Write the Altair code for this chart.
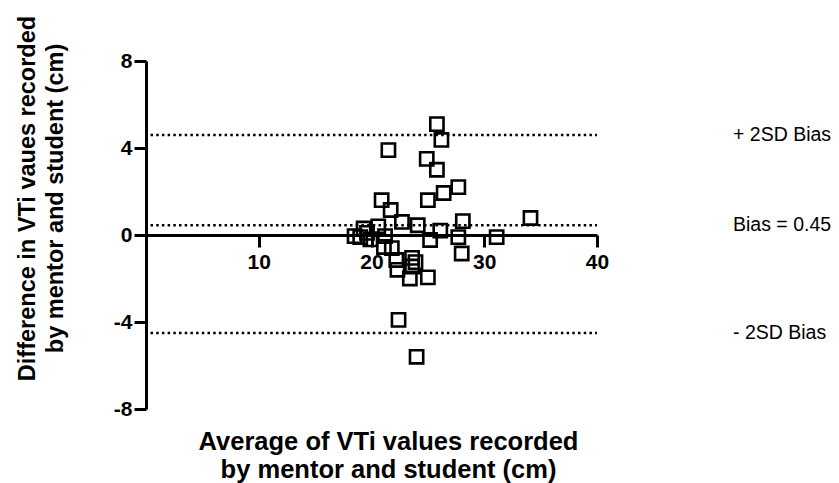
import altair as alt
import pandas as pd

# ---- data ----
avg_vti = [25.8, 26.2, 21.5, 24.9, 25.8, 27.7, 26.4, 25.0, 20.9, 21.7,
           28.1, 34.1, 20.6, 22.7, 24.1, 26.1, 19.6, 19.0, 19.9, 21.2,
           25.2, 27.7, 31.1, 28.0, 21.1, 21.8, 22.2, 22.3, 23.6, 23.6,
           23.9, 23.4, 25.0, 22.4, 24.0, 19.3, 18.5]
diff_vti = [5.1, 4.37, 3.9, 3.5, 3.0, 2.2, 1.93, 1.6, 1.6, 1.15,
            0.64, 0.78, 0.4, 0.6, 0.45, 0.2, 0.1, -0.1, -0.2, -0.05,
            -0.23, -0.1, -0.1, -0.85, -0.55, -0.6, -1.15, -1.6, -1.05, -1.45,
            -1.25, -2.0, -1.95, -3.9, -5.6, 0.3, -0.05]

ref_levels = [4.6, 0.45, -4.5]
ref_labels = ["+ 2SD Bias", "Bias = 0.45", "- 2SD Bias"]
ref_start = [0.4, 0.4, 0.4]
ref_end = [40, 40, 40]

x_ticks = [10, 20, 30, 40]
y_ticks = [-8, -4, 0, 4, 8]
x_domain = [0, 40]
y_domain = [-8, 8]

x_title = ["Average of VTi values recorded", "by mentor and student (cm)"]
y_title = ["Difference in VTi vaues recorded", "by mentor and student (cm)"]

W, H = 451, 348
FONT = "Liberation Sans"

pts = pd.DataFrame({"avg": avg_vti, "diff": diff_vti})
refs = pd.DataFrame({"y": ref_levels, "label": ref_labels,
                     "x1": ref_start, "x2": ref_end})

xs = alt.Scale(domain=x_domain, nice=False, zero=False)
ys = alt.Scale(domain=y_domain, nice=False)

x_axis = alt.Axis(values=x_ticks, offset=-H / 2, title=None, grid=False,
                  domainColor="black", domainWidth=3, tickColor="black",
                  tickWidth=3, tickSize=12, labelFont=FONT, labelFontSize=21,
                  labelFontWeight="bold", labelColor="black", labelPadding=4,
                  labelFlush=False, labelExpr="'' + datum.value")
y_axis = alt.Axis(values=y_ticks, title=y_title, grid=False,
                  domainColor="black", domainWidth=3, tickColor="black",
                  tickWidth=3, tickSize=12, labelFont=FONT, labelFontSize=21,
                  labelFontWeight="bold", labelColor="black", labelPadding=2,
                  labelFlush=False, labelExpr="'' + datum.value",
                  titleFont=FONT, titleFontSize=23.5, titleFontWeight="bold",
                  titleColor="black", titleAngle=270, titleAlign="center",
                  titleBaseline="top", titleX=-131, titleY=137,
                  titleLineHeight=28)

points = alt.Chart(pts).mark_point(
    shape="square", filled=False, size=175, strokeWidth=2.6,
    color="black", opacity=1
).encode(
    x=alt.X("avg:Q", scale=xs, axis=x_axis),
    y=alt.Y("diff:Q", scale=ys, axis=y_axis),
)

rules = alt.Chart(refs).mark_rule(
    color="black", strokeWidth=2.5, strokeDash=[2.5, 3.2]
).encode(
    x=alt.X("x1:Q", scale=xs, axis=x_axis),
    x2="x2:Q",
    y=alt.Y("y:Q", scale=ys, axis=y_axis),
)

labels = alt.Chart(refs).mark_text(
    align="left", baseline="middle", font=FONT, fontSize=19.5, color="black"
).encode(
    x=alt.value(W + 136),
    y=alt.Y("y:Q", scale=ys, axis=y_axis),
    text="label:N",
)

chart = alt.layer(rules, points, labels).properties(
    width=W, height=H,
    autosize=alt.AutoSizeParams(type="none"),
    padding={"left": 138, "top": 53, "right": 234, "bottom": 74},
    title=alt.TitleParams(text=x_title, orient="bottom", anchor="middle",
                          font=FONT, fontSize=25.5, fontWeight="bold",
                          color="black", dx=17, offset=11, lineHeight=28),
).configure_view(stroke=None)

chart.save("out.html", embed_options={"renderer": "svg", "actions": False})
